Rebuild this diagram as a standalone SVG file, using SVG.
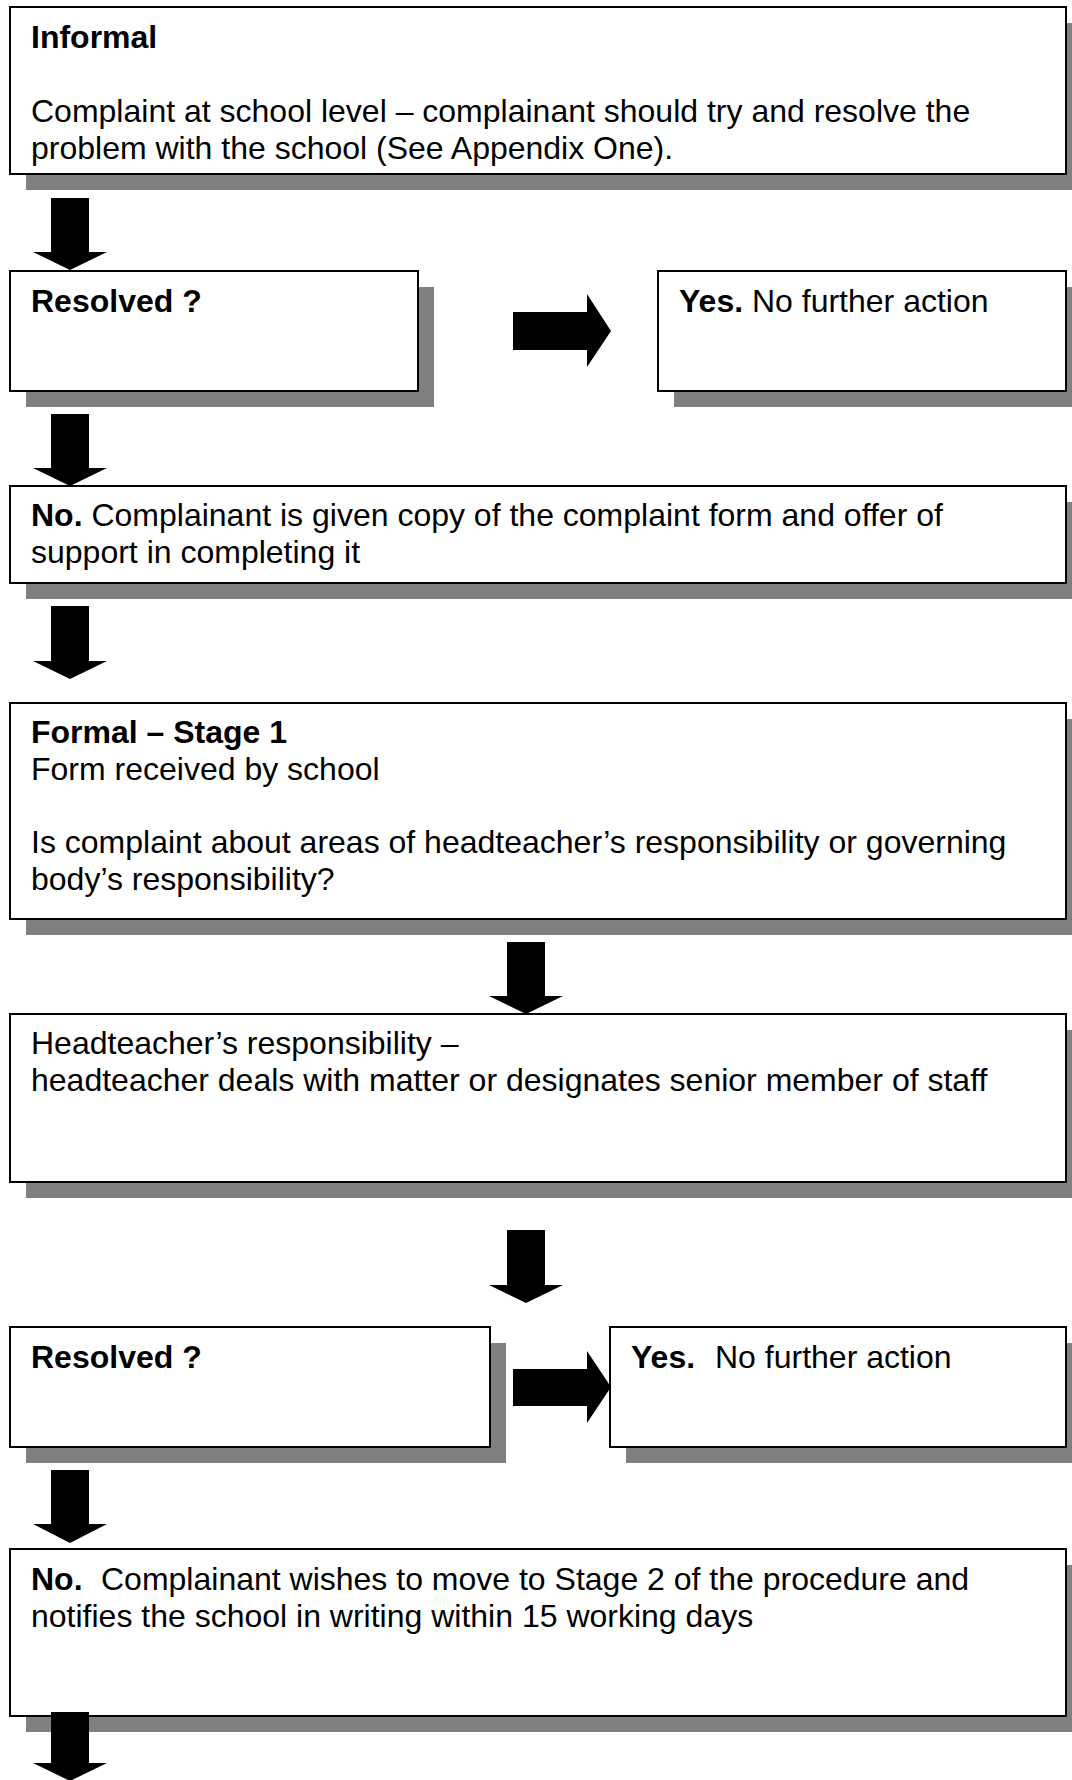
<svg xmlns="http://www.w3.org/2000/svg" width="1072" height="1780" viewBox="0 0 1072 1780">
<style>
.sh{fill:#808080}
.bx{fill:#ffffff;stroke:#000000;stroke-width:2}
.t{font-family:"Liberation Sans",Arial,sans-serif;font-size:32px;fill:#000000}
.b{font-weight:bold}
.ar{fill:#000000}
</style>
<rect width="1072" height="1780" fill="#ffffff"/>
<g id="informal">
<rect class="sh" x="26" y="23" width="1056" height="167"/>
<rect class="bx" x="10" y="7" width="1056" height="167"/>
<text class="t b" x="31" y="48">Informal</text>
<text class="t" x="31" y="122">Complaint at school level – complainant should try and resolve the</text>
<text class="t" x="31" y="159">problem with the school (See Appendix One).</text>
</g>
<g id="resolved1">
<rect class="sh" x="26" y="287" width="408" height="120"/>
<rect class="bx" x="10" y="271" width="408" height="120"/>
<text class="t b" x="31" y="312">Resolved ?</text>
</g>
<g id="yes1">
<rect class="sh" x="674" y="287" width="408" height="120"/>
<rect class="bx" x="658" y="271" width="408" height="120"/>
<text class="t" x="679" y="312"><tspan class="b">Yes.</tspan> No further action</text>
</g>
<g id="no1">
<rect class="sh" x="26" y="502" width="1056" height="97"/>
<rect class="bx" x="10" y="486" width="1056" height="97"/>
<text class="t" x="31" y="526"><tspan class="b">No.</tspan> Complainant is given copy of the complaint form and offer of</text>
<text class="t" x="31" y="563">support in completing it</text>
</g>
<g id="formal1">
<rect class="sh" x="26" y="719" width="1056" height="216"/>
<rect class="bx" x="10" y="703" width="1056" height="216"/>
<text class="t b" x="31" y="743">Formal – Stage 1</text>
<text class="t" x="31" y="780">Form received by school</text>
<text class="t" x="31" y="853">Is complaint about areas of headteacher’s responsibility or governing</text>
<text class="t" x="31" y="890">body’s responsibility?</text>
</g>
<g id="headteacher">
<rect class="sh" x="26" y="1030" width="1056" height="168"/>
<rect class="bx" x="10" y="1014" width="1056" height="168"/>
<text class="t" x="31" y="1054">Headteacher’s responsibility –</text>
<text class="t" x="31" y="1091">headteacher deals with matter or designates senior member of staff</text>
</g>
<g id="resolved2">
<rect class="sh" x="26" y="1343" width="480" height="120"/>
<rect class="bx" x="10" y="1327" width="480" height="120"/>
<text class="t b" x="31" y="1368">Resolved ?</text>
</g>
<g id="yes2">
<rect class="sh" x="626" y="1343" width="456" height="120"/>
<rect class="bx" x="610" y="1327" width="456" height="120"/>
<text class="t" y="1368"><tspan class="b" x="631">Yes.</tspan><tspan x="715">No further action</tspan></text>
</g>
<g id="no2">
<rect class="sh" x="26" y="1565" width="1056" height="167"/>
<rect class="bx" x="10" y="1549" width="1056" height="167"/>
<text class="t" y="1590"><tspan class="b" x="31">No.</tspan><tspan x="101">Complainant wishes to move to Stage 2 of the procedure and</tspan></text>
<text class="t" x="31" y="1627">notifies the school in writing within 15 working days</text>
</g>
<g id="connectors">
<polygon class="ar" points="51,198 89,198 89,252 107,252 70,270 33,252 51,252"/>
<polygon class="ar" points="513,312 587,312 587,294 611,331 587,367 587,350 513,350"/>
<polygon class="ar" points="51,414 89,414 89,468 107,468 70,486 33,468 51,468"/>
<polygon class="ar" points="51,606 89,606 89,661 107,661 70,679 33,661 51,661"/>
<polygon class="ar" points="507,942 545,942 545,996 563,996 526,1014 489,996 507,996"/>
<polygon class="ar" points="507,1230 545,1230 545,1285 563,1285 526,1303 489,1285 507,1285"/>
<polygon class="ar" points="513,1369 587,1369 587,1351 611,1387 587,1423 587,1406 513,1406"/>
<polygon class="ar" points="51,1470 89,1470 89,1524 107,1524 70,1543 33,1524 51,1524"/>
<polygon class="ar" points="51,1712 89,1712 89,1763 107,1763 70,1781 33,1763 51,1763"/>
</g>
</svg>
